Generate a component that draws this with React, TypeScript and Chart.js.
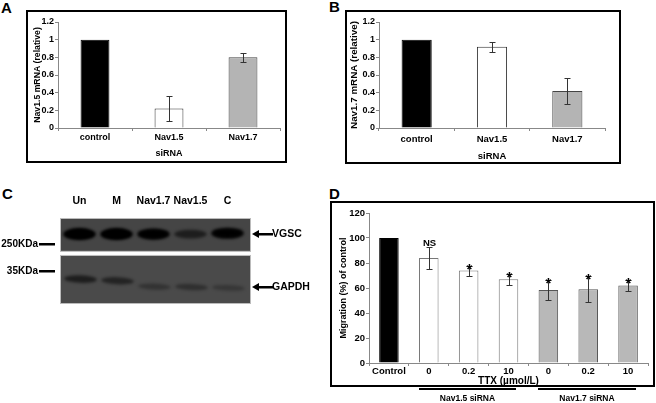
import React, { useEffect, useRef } from 'react';
import { Chart, registerables } from 'chart.js';
Chart.register(...registerables);

const FONT = "'Liberation Sans', Arial, Helvetica, sans-serif";

// ---- Panel A / B data ----
const AB_CATEGORIES = ['control', 'Nav1.5', 'Nav1.7'];
const A_VALUES = [1, 0.22, 0.8];
const A_ERRORS = [0, 0.14, 0.05];
const B_VALUES = [1, 0.92, 0.42];
const B_ERRORS = [0, 0.055, 0.145];
const AB_Y_MAX = 1.2;
const AB_Y_STEP = 0.2;

// ---- Panel C data (western blot) ----
const C_LANES = ['Un', 'M', 'Nav1.7', 'Nav1.5', 'C'];
const C_VGSC_INTENSITY = [1, 1, 0.88, 0.55, 0.85];
const C_VGSC_POS = [82, 82, 82, 82, 83];
const C_GAPDH_INTENSITY = [0.8, 0.7, 0.42, 0.48, 0.35];
const C_GAPDH_POS = [28.5, 26.5, 19.5, 19, 18];
const C_MARKERS = [
  { label: '250KDa', pos: 70 },
  { label: '35KDa', pos: 38 },
];
const C_BAND_LABELS = [
  { label: 'VGSC', pos: 82 },
  { label: 'GAPDH', pos: 19 },
];

// ---- Panel D data ----
const D_CATEGORIES = ['Control', '0', '0.2', '10', '0', '0.2', '10'];
const D_VALUES = [100, 84, 74, 67, 58.5, 59, 62];
const D_ERRORS = [0, 9, 4, 4.5, 8, 10.4, 4.7];
const D_MARKS = ['', 'NS', '*', '*', '*', '*', '*'];
const D_GROUPS = [
  { label: 'Nav1.5 siRNA', from: 1, to: 3 },
  { label: 'Nav1.7 siRNA', from: 4, to: 6 },
];
const D_Y_MAX = 120;
const D_Y_STEP = 20;

const AB_COLORS = ['#000000', '#ffffff', '#b4b4b4'];
const AB_BORDERS = ['#000000', '#333333', '#444444'];
const D_COLORS = ['#000000', '#ffffff', '#ffffff', '#ffffff', '#b8b8b8', '#b8b8b8', '#b8b8b8'];
const D_BORDERS = ['#000000', '#777777', '#777777', '#777777', '#555555', '#555555', '#555555'];

const framePlugin = {
  id: 'frame',
  afterDraw(chart: any, _args: any, opts: any) {
    if (!opts || !opts.rect) return;
    const { ctx } = chart;
    ctx.save();
    ctx.strokeStyle = '#000';
    ctx.lineWidth = 2;
    const [x, y, w, h] = opts.rect;
    ctx.strokeRect(x, y, w, h);
    ctx.restore();
  },
};

const errorBarPlugin = {
  id: 'errorBars',
  afterDatasetsDraw(chart: any, _args: any, opts: any) {
    if (!opts || !opts.errors) return;
    const { ctx } = chart;
    const meta = chart.getDatasetMeta(0);
    const ys = chart.scales.y;
    const data = chart.data.datasets[0].data;
    ctx.save();
    ctx.strokeStyle = opts.color || '#333';
    ctx.lineWidth = 1;
    meta.data.forEach((bar: any, i: number) => {
      const e = opts.errors[i];
      if (!e) return;
      const v = data[i];
      const top = Math.round(ys.getPixelForValue(v + e)) + 0.5;
      const bot = Math.round(ys.getPixelForValue(v - e)) + 0.5;
      const x = Math.round(bar.x) + 0.5;
      const cap = opts.cap || 3;
      ctx.beginPath();
      ctx.moveTo(x, top);
      ctx.lineTo(x, bot);
      ctx.moveTo(x - cap, top);
      ctx.lineTo(x + cap, top);
      ctx.moveTo(x - cap, bot);
      ctx.lineTo(x + cap, bot);
      ctx.stroke();
      if (opts.marks && opts.marks[i]) {
        const m = opts.marks[i];
        ctx.fillStyle = '#000';
        ctx.textAlign = 'center';
        if (m === '*') {
          ctx.font = `bold 15px ${FONT}`;
          ctx.textBaseline = 'alphabetic';
          ctx.fillText(m, x, top + 7);
        } else {
          ctx.font = `bold 9.5px ${FONT}`;
          ctx.textBaseline = 'bottom';
          ctx.fillText(m, x, top + 1);
        }
      }
    });
    ctx.restore();
  },
};

const groupPlugin = {
  id: 'groups',
  afterDraw(chart: any, _args: any, opts: any) {
    if (!opts || !opts.groups) return;
    const { ctx } = chart;
    const xs = chart.scales.x;
    const cw = xs.getPixelForValue(1) - xs.getPixelForValue(0);
    ctx.save();
    opts.groups.forEach((g: any) => {
      const x1 = Math.round(xs.getPixelForValue(g.from) - cw * 0.25);
      const x2 = Math.round(xs.getPixelForValue(g.to) + cw * 0.2);
      ctx.fillStyle = '#000';
      ctx.fillRect(x1, opts.lineY, x2 - x1, 2);
      ctx.font = `bold 8.5px ${FONT}`;
      ctx.textAlign = 'center';
      ctx.textBaseline = 'middle';
      ctx.fillText(g.label, (x1 + x2) / 2, opts.textY);
    });
    ctx.restore();
  },
};

const blotPlugin = {
  id: 'blot',
  beforeDatasetsDraw(chart: any) {
    const { ctx, chartArea } = chart;
    const xs = chart.scales.x;
    const ys = chart.scales.y;
    const left = chartArea.left;
    const right = chartArea.right + 4;
    const upperTop = ys.getPixelForValue(100);
    const upperBot = ys.getPixelForValue(62);
    const lowerTop = ys.getPixelForValue(56);
    const lowerBot = ys.getPixelForValue(0);
    ctx.save();
    ctx.fillStyle = '#454545';
    ctx.fillRect(left, upperTop, right - left, upperBot - upperTop);
    ctx.fillStyle = '#4a4a4a';
    ctx.fillRect(left, lowerTop, right - left, lowerBot - lowerTop);
    ctx.strokeStyle = '#bbbbbb';
    ctx.lineWidth = 1;
    ctx.strokeRect(left - 0.5, upperTop - 0.5, right - left + 1, upperBot - upperTop + 1);
    ctx.strokeRect(left - 0.5, lowerTop - 0.5, right - left + 1, lowerBot - lowerTop + 1);
    const cw = xs.getPixelForValue(1) - xs.getPixelForValue(0);
    ctx.save();
    ctx.beginPath();
    ctx.rect(left, upperTop, right - left, upperBot - upperTop);
    ctx.rect(left, lowerTop, right - left, lowerBot - lowerTop);
    ctx.clip();
    ctx.filter = 'blur(1.6px)';
    C_LANES.forEach((_l, i) => {
      const cx = xs.getPixelForValue(i);
      const a = C_VGSC_INTENSITY[i];
      const cy = ys.getPixelForValue(C_VGSC_POS[i]);
      ctx.fillStyle = `rgba(0,0,0,${Math.min(1, a * 1.05)})`;
      ctx.beginPath();
      ctx.ellipse(cx, cy, cw * 0.44, 6 * Math.sqrt(a), 0, 0, Math.PI * 2);
      ctx.fill();
      if (a > 0.8) {
        ctx.fillStyle = 'rgba(0,0,0,0.9)';
        ctx.beginPath();
        ctx.ellipse(cx, cy, cw * 0.38, 4.5 * a, 0, 0, Math.PI * 2);
        ctx.fill();
      }
      const g = C_GAPDH_INTENSITY[i];
      const gy = ys.getPixelForValue(C_GAPDH_POS[i]);
      ctx.fillStyle = `rgba(0,0,0,${g * 0.75})`;
      ctx.beginPath();
      ctx.ellipse(cx + 1, gy, cw * 0.44, 2.2 + 2 * g, 0.04, 0, Math.PI * 2);
      ctx.fill();
    });
    ctx.restore();
    ctx.fillStyle = '#000';
    ctx.font = `bold 10px ${FONT}`;
    ctx.textBaseline = 'middle';
    ctx.textAlign = 'right';
    C_MARKERS.forEach((m) => {
      const y = ys.getPixelForValue(m.pos);
      ctx.fillText(m.label, 38, y);
      ctx.fillRect(39, Math.round(y) - 1, 16, 2.5);
    });
    ctx.textAlign = 'left';
    ctx.font = `bold 10.5px ${FONT}`;
    C_BAND_LABELS.forEach((b) => {
      const y = Math.round(ys.getPixelForValue(b.pos));
      const ax = right + 2;
      ctx.beginPath();
      ctx.moveTo(ax, y);
      ctx.lineTo(ax + 7, y - 4);
      ctx.lineTo(ax + 7, y + 4);
      ctx.closePath();
      ctx.fill();
      ctx.fillRect(ax + 6, y - 1, 15, 2.5);
      ctx.fillText(b.label, ax + 20, y + 0.5);
    });
    ctx.restore();
  },
};

const tickFmt = (v: any) => String(Number(Number(v).toFixed(1)));

function barConfig(opts: {
  labels: string[];
  values: number[];
  errors: number[];
  colors: string[];
  borders: string[];
  barPct: number;
  yMax: number;
  yStep: number;
  yTitle: string;
  yTitleSize: number;
  yTitlePad: number;
  yWidth: number;
  tickSize: number;
  xLabelSize: number;
  xLabelPad: number;
  xTitle: string;
  xTitleSize: number;
  xTitlePad: number;
  xHeight: number;
  padding: any;
  frame: number[];
  marks?: string[];
  groups?: any;
}) {
  return {
    type: 'bar' as const,
    data: {
      labels: opts.labels,
      datasets: [
        {
          data: opts.values,
          backgroundColor: opts.colors,
          borderColor: opts.borders,
          borderWidth: 1,
          barPercentage: opts.barPct,
          categoryPercentage: 1,
        },
      ],
    },
    options: {
      animation: false as const,
      responsive: false,
      devicePixelRatio: 1,
      layout: { padding: opts.padding },
      plugins: {
        legend: { display: false },
        tooltip: { enabled: false },
        frame: { rect: opts.frame },
        errorBars: { errors: opts.errors, color: '#333', cap: 3, marks: opts.marks },
        groups: opts.groups,
      },
      scales: {
        x: {
          grid: { display: true, drawOnChartArea: false, tickLength: 3, color: '#888', offset: true },
          border: { color: '#888' },
          ticks: {
            color: '#000',
            padding: opts.xLabelPad,
            font: { family: FONT, size: opts.xLabelSize, weight: 'bold' as const },
            maxRotation: 0,
            autoSkip: false,
          },
          title: {
            display: true,
            text: opts.xTitle,
            color: '#000',
            font: { family: FONT, size: opts.xTitleSize, weight: 'bold' as const },
            padding: { top: 0, bottom: opts.xTitlePad },
          },
          afterFit: (s: any) => {
            s.height = opts.xHeight;
          },
        },
        y: {
          min: 0,
          max: opts.yMax,
          grid: { display: true, drawOnChartArea: false, tickLength: 3, color: '#888' },
          border: { color: '#888' },
          ticks: {
            stepSize: opts.yStep,
            color: '#000',
            padding: 1,
            font: { family: FONT, size: opts.tickSize, weight: 'bold' as const },
            callback: tickFmt,
          },
          title: {
            display: true,
            text: opts.yTitle,
            color: '#000',
            font: { family: FONT, size: opts.yTitleSize, weight: 'bold' as const },
            padding: { top: opts.yTitlePad, bottom: 0 },
          },
          afterFit: (s: any) => {
            s.width = opts.yWidth;
          },
        },
      },
    },
    plugins: [framePlugin, errorBarPlugin, groupPlugin],
  };
}

export default function App() {
  const aRef = useRef<HTMLCanvasElement>(null);
  const bRef = useRef<HTMLCanvasElement>(null);
  const cRef = useRef<HTMLCanvasElement>(null);
  const dRef = useRef<HTMLCanvasElement>(null);

  useEffect(() => {
    const charts: Chart[] = [];
    charts.push(
      new Chart(
        aRef.current!,
        barConfig({
          labels: AB_CATEGORIES,
          values: A_VALUES,
          errors: A_ERRORS,
          colors: AB_COLORS,
          borders: AB_BORDERS,
          barPct: 0.39,
          yMax: AB_Y_MAX,
          yStep: AB_Y_STEP,
          yTitle: 'Nav1.5 mRNA (relative)',
          yTitleSize: 8.7,
          yTitlePad: 6,
          yWidth: 32,
          tickSize: 9,
          xLabelSize: 9,
          xLabelPad: 1,
          xTitle: 'siRNA',
          xTitleSize: 9,
          xTitlePad: 3.6,
          xHeight: 35,
          padding: { left: 0, top: 12, right: 7, bottom: 0 },
          frame: [1, 1, 259, 151],
        }) as any
      )
    );
    charts.push(
      new Chart(
        bRef.current!,
        barConfig({
          labels: AB_CATEGORIES,
          values: B_VALUES,
          errors: B_ERRORS,
          colors: AB_COLORS,
          borders: AB_BORDERS,
          barPct: 0.4,
          yMax: AB_Y_MAX,
          yStep: AB_Y_STEP,
          yTitle: 'Nav1.7 mRNA (relative)',
          yTitleSize: 9.8,
          yTitlePad: 3,
          yWidth: 34,
          tickSize: 9,
          xLabelSize: 9.5,
          xLabelPad: 3,
          xTitle: 'siRNA',
          xTitleSize: 9.5,
          xTitlePad: 1.5,
          xHeight: 36,
          padding: { left: 0, top: 12, right: 16, bottom: 0 },
          frame: [1, 1, 274, 152],
        }) as any
      )
    );
    charts.push(
      new Chart(
        dRef.current!,
        barConfig({
          labels: D_CATEGORIES,
          values: D_VALUES,
          errors: D_ERRORS,
          colors: D_COLORS,
          borders: D_BORDERS,
          barPct: 0.49,
          yMax: D_Y_MAX,
          yStep: D_Y_STEP,
          yTitle: 'Migration (%) of control',
          yTitleSize: 9,
          yTitlePad: 8,
          yWidth: 39,
          tickSize: 9.5,
          xLabelSize: 9.5,
          xLabelPad: 0,
          xTitle: 'TTX (\u00b5mol/L)',
          xTitleSize: 10,
          xTitlePad: 0,
          xHeight: 24,
          padding: { left: 0, top: 12, right: 8, bottom: 16 },
          frame: [1, 1, 323, 184],
          marks: D_MARKS,
          groups: { groups: D_GROUPS, lineY: 187, textY: 198 },
        }) as any
      )
    );
    charts.push(
      new Chart(cRef.current!, {
        type: 'bar',
        data: {
          labels: C_LANES,
          datasets: [{ data: C_LANES.map(() => null), backgroundColor: 'transparent' }],
        },
        options: {
          animation: false,
          responsive: false,
          devicePixelRatio: 1,
          layout: { padding: { left: 61, right: 84, top: 0, bottom: 12 } },
          plugins: { legend: { display: false }, tooltip: { enabled: false } },
          scales: {
            x: {
              position: 'top',
              grid: { display: false },
              border: { display: false },
              ticks: {
                color: '#000',
                padding: 4,
                font: { family: FONT, size: 10.5, weight: 'bold' },
                maxRotation: 0,
                autoSkip: false,
              },
              afterFit: (s: any) => {
                s.height = 24;
              },
            },
            y: { display: false, min: 0, max: 100 },
          },
        },
        plugins: [blotPlugin],
      } as any)
    );
    return () => charts.forEach((c) => c.destroy());
  }, []);

  const letter = (left: number, top: number): React.CSSProperties => ({
    position: 'absolute',
    left,
    top,
    fontFamily: FONT,
    fontWeight: 'bold',
    fontSize: 15,
    lineHeight: '15px',
    color: '#000',
  });

  return (
    <div
      style={{
        position: 'absolute',
        left: 0,
        top: 0,
        width: 656,
        height: 403,
        background: '#fff',
        overflow: 'hidden',
      }}
    >
      <div style={letter(1, 0)}>A</div>
      <div style={letter(329, -1)}>B</div>
      <div style={letter(2, 186)}>C</div>
      <div style={letter(329, 186)}>D</div>
      <canvas ref={aRef} width={261} height={153} style={{ position: 'absolute', left: 26, top: 10 }} />
      <canvas ref={bRef} width={276} height={154} style={{ position: 'absolute', left: 345, top: 10 }} />
      <canvas ref={cRef} width={330} height={120} style={{ position: 'absolute', left: 0, top: 195 }} />
      <canvas ref={dRef} width={326} height={202} style={{ position: 'absolute', left: 330, top: 201 }} />
    </div>
  );
}
